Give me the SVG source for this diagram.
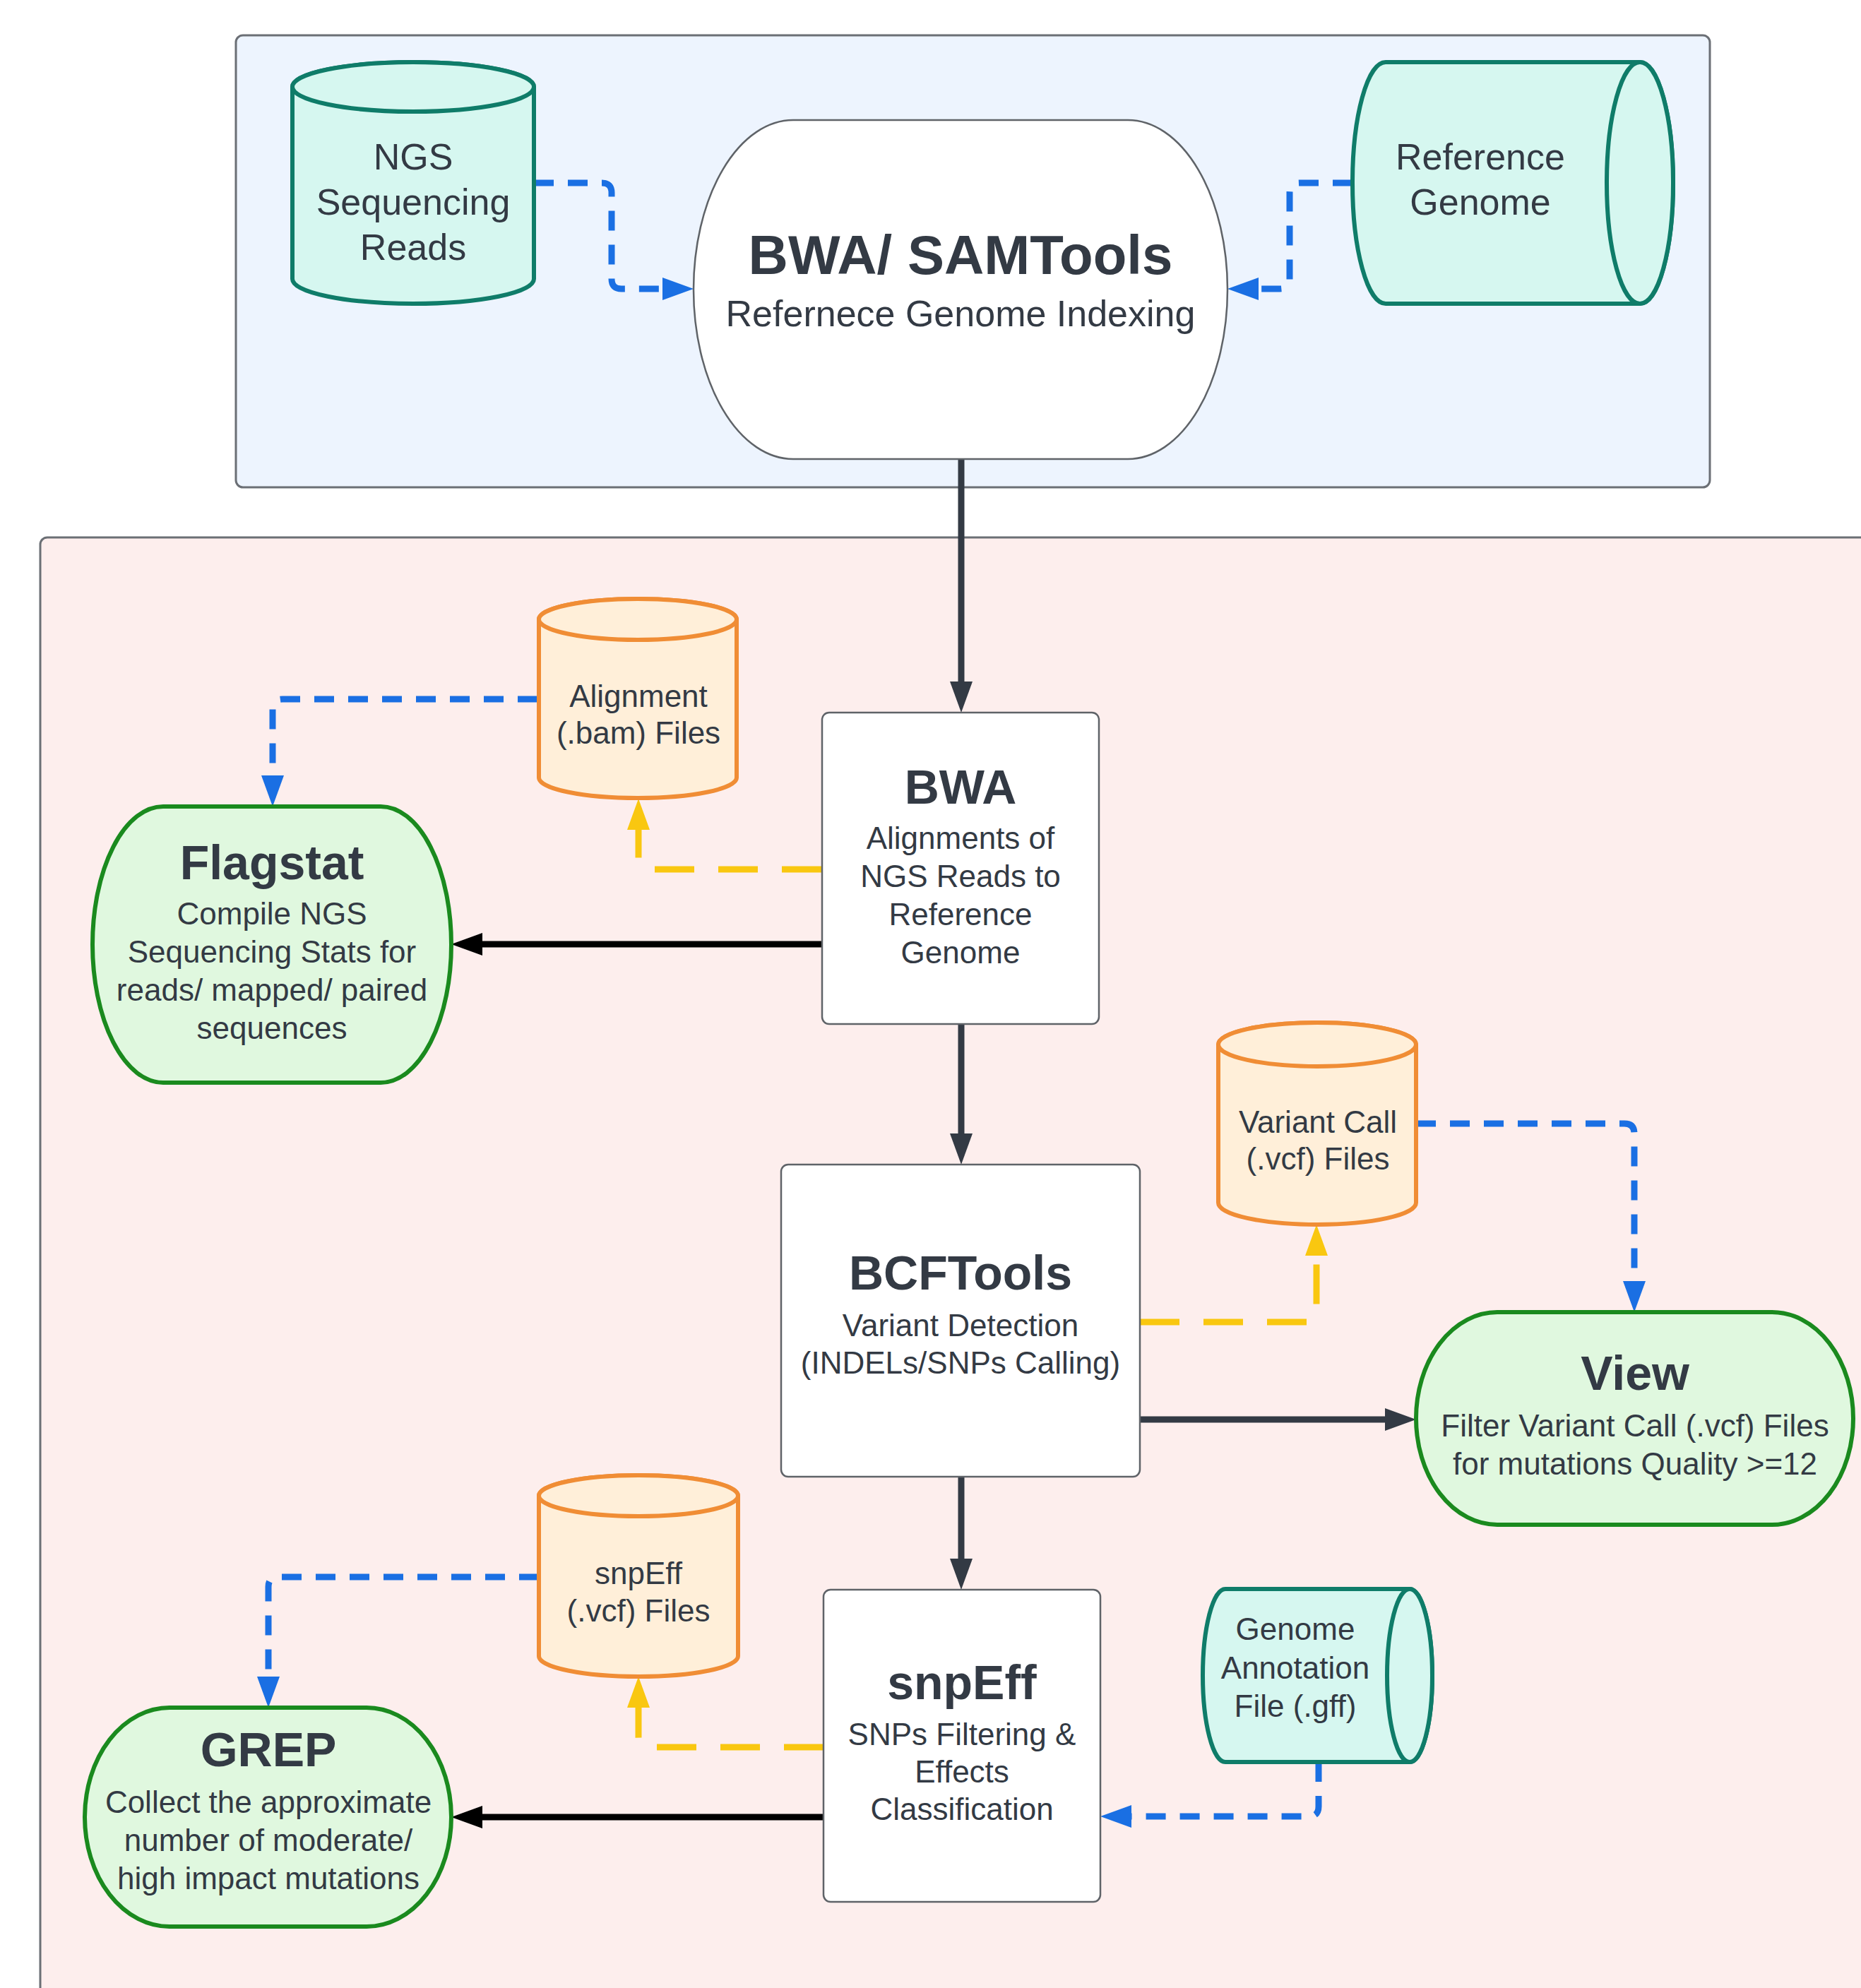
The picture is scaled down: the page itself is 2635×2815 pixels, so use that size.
<svg xmlns="http://www.w3.org/2000/svg" width="2635" height="2815" viewBox="0 0 2635 2815">
<defs>
<style>
text{font-family:"Liberation Sans",Arial,sans-serif;fill:#333a44;text-anchor:middle}
.t{font-size:68px;font-weight:bold}
.s{font-size:44px}
.m{font-size:52px}
.cont{stroke:#6b6f75;stroke-width:3}
.teal{fill:#d6f7f0;stroke:#0f7c69;stroke-width:6}
.org{fill:#ffefd9;stroke:#f08d35;stroke-width:6}
.grn{fill:#e0f8df;stroke:#1a8a1e;stroke-width:6}
.box{fill:#ffffff;stroke:#5f6368;stroke-width:2.5}
.c{fill:none;stroke-width:9}
.blue{stroke:#1a6fe3;stroke-dasharray:28 20}
.yel{stroke:#f9c710;stroke-dasharray:56 34}
.dark{stroke:#333a44}
.blk{stroke:#000000}
</style>
<marker id="aBlue" markerUnits="userSpaceOnUse" markerWidth="44" markerHeight="32" refX="24" refY="16" orient="auto" overflow="visible"><path d="M0,0 L44,16 L0,32 z" fill="#1a6fe3"/></marker>
<marker id="aYel" markerUnits="userSpaceOnUse" markerWidth="44" markerHeight="32" refX="24" refY="16" orient="auto" overflow="visible"><path d="M0,0 L44,16 L0,32 z" fill="#f9c710"/></marker>
<marker id="aDark" markerUnits="userSpaceOnUse" markerWidth="44" markerHeight="32" refX="24" refY="16" orient="auto" overflow="visible"><path d="M0,0 L44,16 L0,32 z" fill="#333a44"/></marker>
<marker id="aBlk" markerUnits="userSpaceOnUse" markerWidth="44" markerHeight="32" refX="24" refY="16" orient="auto" overflow="visible"><path d="M0,0 L44,16 L0,32 z" fill="#000000"/></marker>
</defs>
<rect width="2635" height="2815" fill="#ffffff"/>
<g id="container-top"><rect class="cont" x="334" y="50" width="2087" height="640" rx="10" fill="#edf4fe"/></g>
<g id="container-bottom"><rect class="cont" x="57" y="761" width="2700" height="2200" rx="10" fill="#fdeeed"/></g>

<g id="connectors">
<path class="c blue" d="M756,259 H852 Q866,259 866,273 V395 Q866,409 880,409 H962" marker-end="url(#aBlue)"/>
<path class="c blue" d="M1915,259 H1840 Q1826,259 1826,273 V395 Q1826,409 1812,409 H1758" marker-end="url(#aBlue)"/>
<path class="c dark" d="M1361,650 V989" marker-end="url(#aDark)"/>
<path class="c blue" d="M761,990 H400 Q386,990 386,1004 V1122" marker-end="url(#aBlue)"/>
<path class="c yel" d="M1163,1231 H918 Q904,1231 904,1217 V1151" marker-end="url(#aYel)"/>
<path class="c blk" d="M1163,1337 H659" marker-end="url(#aBlk)"/>
<path class="c dark" d="M1361,1450 V1629" marker-end="url(#aDark)"/>
<path class="c yel" d="M1614,1872 H1850 Q1864,1872 1864,1858 V1754" marker-end="url(#aYel)"/>
<path class="c blue" d="M2005,1591 H2300 Q2314,1591 2314,1605 V1838" marker-end="url(#aBlue)"/>
<path class="c dark" d="M1614,2010 H1985" marker-end="url(#aDark)"/>
<path class="c dark" d="M1361,2091 V2231" marker-end="url(#aDark)"/>
<path class="c blue" d="M1867,2495 V2558 Q1867,2572 1853,2572 H1578" marker-end="url(#aBlue)"/>
<path class="c yel" d="M1166,2474 H918 Q904,2474 904,2460 V2394" marker-end="url(#aYel)"/>
<path class="c blue" d="M763,2233 H394 Q380,2233 380,2247 V2398" marker-end="url(#aBlue)"/>
<path class="c blk" d="M1166,2573 H659" marker-end="url(#aBlk)"/>
</g>

<g id="ngs-reads">
<path class="teal" d="M414,123 A171,35 0 0 1 756,123 V395 A171,35 0 0 1 414,395 Z"/>
<ellipse class="teal" cx="585" cy="123" rx="171" ry="35"/>
<text class="m" x="585" y="240">NGS</text>
<text class="m" x="585" y="304">Sequencing</text>
<text class="m" x="585" y="368">Reads</text>
</g>

<g id="reference-genome">
<path class="teal" d="M1962,88 H2322 A47,171 0 0 1 2322,430 H1962 A47,171 0 0 1 1962,88 Z"/>
<ellipse class="teal" cx="2322" cy="259" rx="47" ry="171"/>
<text class="m" x="2096" y="240">Reference</text>
<text class="m" x="2096" y="304">Genome</text>
</g>

<g id="bwa-samtools">
<rect class="box" x="982" y="170" width="756" height="480" rx="141" ry="240"/>
<text x="1360" y="388" style="font-size:78px;font-weight:bold">BWA/ SAMTools</text>
<text class="m" x="1360" y="462">Refernece Genome Indexing</text>
</g>

<g id="alignment-files">
<path class="org" d="M763,877 A140,29 0 0 1 1043,877 V1101 A140,29 0 0 1 763,1101 Z"/>
<ellipse class="org" cx="903" cy="877" rx="140" ry="29"/>
<text class="s" x="904" y="1001">Alignment</text>
<text class="s" x="904" y="1053">(.bam) Files</text>
</g>

<g id="bwa">
<rect class="box" x="1164" y="1009" width="392" height="441" rx="10"/>
<text class="t" x="1360" y="1138">BWA</text>
<text class="s" x="1360" y="1202">Alignments of</text>
<text class="s" x="1360" y="1256">NGS Reads to</text>
<text class="s" x="1360" y="1310">Reference</text>
<text class="s" x="1360" y="1364">Genome</text>
</g>

<g id="flagstat">
<rect class="grn" x="131" y="1142" width="508" height="391" rx="100" ry="195.5"/>
<text class="t" x="385" y="1245">Flagstat</text>
<text class="s" x="385" y="1309">Compile NGS</text>
<text class="s" x="385" y="1363">Sequencing Stats for</text>
<text class="s" x="385" y="1417">reads/ mapped/ paired</text>
<text class="s" x="385" y="1471">sequences</text>
</g>

<g id="variant-call-files">
<path class="org" d="M1725,1479 A140,31 0 0 1 2005,1479 V1703 A140,31 0 0 1 1725,1703 Z"/>
<ellipse class="org" cx="1865" cy="1479" rx="140" ry="31"/>
<text class="s" x="1866" y="1604">Variant Call</text>
<text class="s" x="1866" y="1656">(.vcf) Files</text>
</g>

<g id="bcftools">
<rect class="box" x="1106" y="1649" width="508" height="442" rx="10"/>
<text class="t" x="1360" y="1826">BCFTools</text>
<text class="s" x="1360" y="1892">Variant Detection</text>
<text class="s" x="1360" y="1945">(INDELs/SNPs Calling)</text>
</g>

<g id="view">
<rect class="grn" x="2005" y="1858" width="619" height="301" rx="115" ry="150.5"/>
<text class="t" x="2315" y="1968">View</text>
<text class="s" x="2315" y="2034">Filter Variant Call (.vcf) Files</text>
<text class="s" x="2315" y="2088">for mutations Quality &gt;=12</text>
</g>

<g id="snpeff-files">
<path class="org" d="M763,2118 A141,29 0 0 1 1045,2118 V2345 A141,29 0 0 1 763,2345 Z"/>
<ellipse class="org" cx="904" cy="2118" rx="141" ry="29"/>
<text class="s" x="904" y="2243">snpEff</text>
<text class="s" x="904" y="2296">(.vcf) Files</text>
</g>

<g id="genome-annotation">
<path class="teal" d="M1735,2250 H1996 A32,122.5 0 0 1 1996,2495 H1735 A32,122.5 0 0 1 1735,2250 Z"/>
<ellipse class="teal" cx="1996" cy="2372.5" rx="32" ry="122.5"/>
<text class="s" x="1834" y="2322">Genome</text>
<text class="s" x="1834" y="2377">Annotation</text>
<text class="s" x="1834" y="2431">File (.gff)</text>
</g>

<g id="snpeff">
<rect class="box" x="1166" y="2251" width="392" height="442" rx="10"/>
<text class="t" x="1362" y="2406">snpEff</text>
<text class="s" x="1362" y="2471">SNPs Filtering &amp;</text>
<text class="s" x="1362" y="2524">Effects</text>
<text class="s" x="1362" y="2577">Classification</text>
</g>

<g id="grep">
<rect class="grn" x="120" y="2418" width="519" height="310" rx="120" ry="155"/>
<text class="t" x="380" y="2501">GREP</text>
<text class="s" x="380" y="2567">Collect the approximate</text>
<text class="s" x="380" y="2621">number of moderate/</text>
<text class="s" x="380" y="2675">high impact mutations</text>
</g>
</svg>
